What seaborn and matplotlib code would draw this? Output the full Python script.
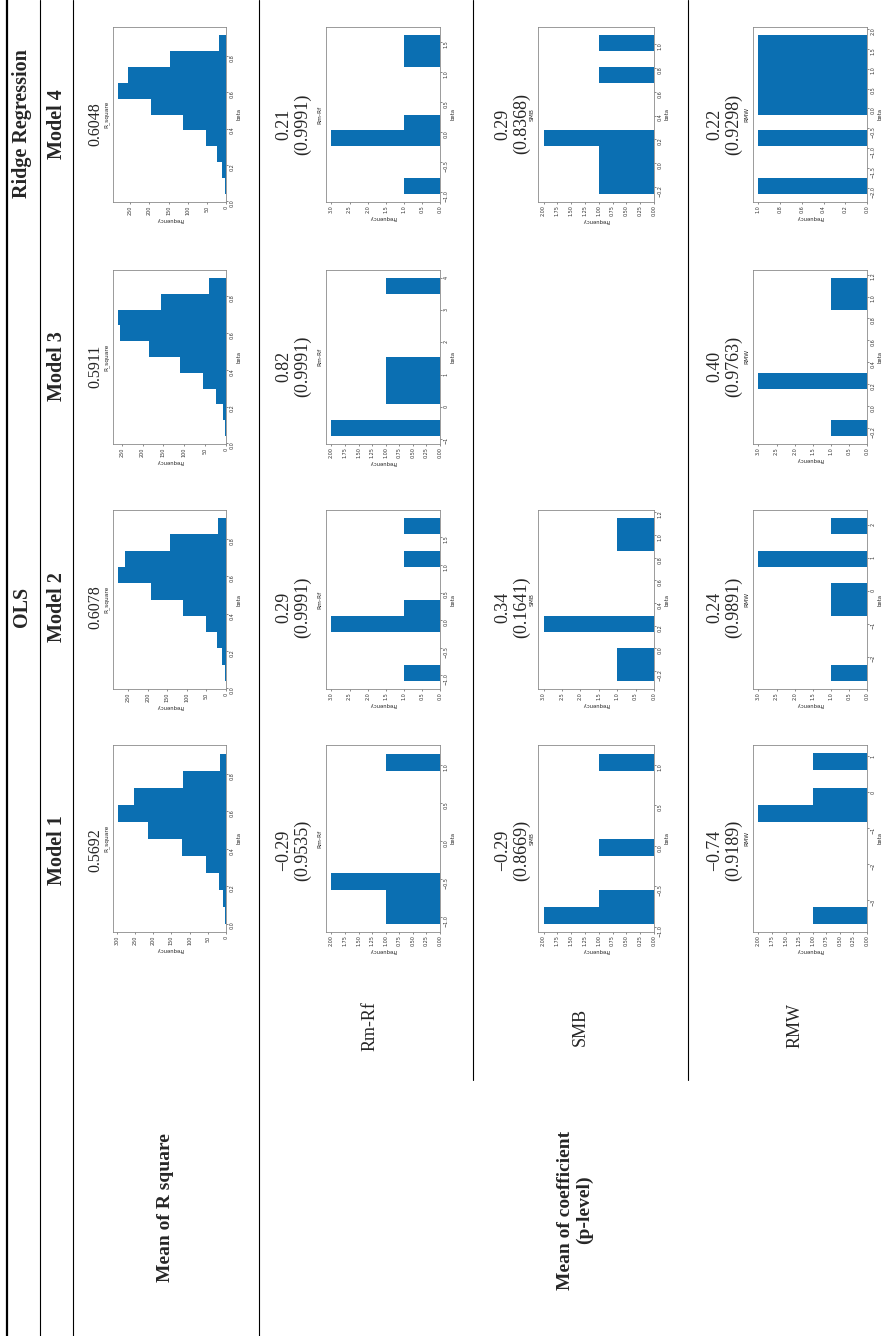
import numpy as np
import pandas as pd
import matplotlib
matplotlib.use('Agg')
import matplotlib.pyplot as plt
from matplotlib.lines import Line2D
from matplotlib.ticker import MaxNLocator
import seaborn as sns

models = ['Model 1', 'Model 2', 'Model 3', 'Model 4']
factors = ['Rm-Rf', 'SMB', 'RMW']

rsq_mean = ['0.5692', '0.6078', '0.5911', '0.6048']
rmrf_mean = ['\u22120.29', '0.29', '0.82', '0.21']
rmrf_p = ['(0.9535)', '(0.9991)', '(0.9991)', '(0.9991)']
smb_mean = ['\u22120.29', '0.34', None, '0.29']
smb_p = ['(0.8669)', '(0.1641)', None, '(0.8368)']
rmw_mean = ['\u22120.74', '0.24', '0.40', '0.22']
rmw_p = ['(0.9189)', '(0.9891)', '(0.9763)', '(0.9298)']

# histogram ranges (min, max of beta) and the counts of the 10 bins
rsq_lo = [0.0, 0.04, 0.04, 0.04]
rsq_hi = [0.91, 0.913, 0.90, 0.915]
rsq_counts = [[3, 8, 20, 56, 120, 215, 296, 254, 117, 17],
              [3, 10, 22, 50, 111, 192, 275, 257, 144, 20],
              [3, 8, 25, 56, 111, 184, 254, 258, 157, 40],
              [3, 11, 24, 53, 112, 197, 281, 257, 145, 18]]

rmrf_lo = [-1.09, -1.10, -0.91, -1.03]
rmrf_hi = [1.15, 1.85, 4.0, 1.62]
rmrf_counts = [[1, 1, 2, 0, 0, 0, 0, 0, 0, 1],
               [1, 0, 0, 3, 1, 0, 0, 1, 0, 1],
               [2, 0, 1, 1, 1, 0, 0, 0, 0, 1],
               [1, 0, 0, 3, 1, 0, 0, 0, 1, 1]]

smb_lo = [-0.96, -0.286, None, -0.26]
smb_hi = [1.14, 1.15, None, 1.08]
smb_counts = [[2, 1, 0, 0, 1, 0, 0, 0, 0, 1],
              [1, 1, 0, 3, 0, 0, 0, 0, 1, 1],
              None,
              [1, 1, 1, 2, 0, 0, 0, 1, 0, 1]]

rmw_lo = [-3.64, -2.72, -0.276, -2.16]
rmw_hi = [1.08, 2.2, 1.17, 1.85]
rmw_counts = [[1, 0, 0, 0, 0, 0, 2, 1, 0, 1],
              [1, 0, 0, 0, 1, 1, 0, 3, 0, 1],
              [1, 0, 0, 3, 0, 0, 0, 0, 1, 1],
              [1, 0, 0, 1, 0, 1, 1, 1, 1, 1]]

W, H = 896, 1336
bar_blue = '#0b6fb2'
spine_col = '#8a8a8a'
serif = 'Liberation Serif'

sns.set_style('white')
plt.rcParams['font.family'] = ['DejaVu Sans']

fig = plt.figure(figsize=(W / 100, H / 100), dpi=100)


def put(x, y, s, size=13, weight='normal'):
    fig.text(x / W, 1 - y / H, s, rotation=90, ha='center', va='center',
             rotation_mode='anchor', fontsize=size, fontweight=weight,
             family=serif)


def vline(x, y0, y1, lw=0.8):
    fig.add_artist(Line2D([x / W, x / W], [1 - y0 / H, 1 - y1 / H],
                          transform=fig.transFigure, color='black', lw=lw))


def hist_panel(box, lo, hi, counts, title):
    x0, x1, y0, y1 = box
    ax = fig.add_axes([x0 / W, 1 - y1 / H, (x1 - x0) / W, (y1 - y0) / H])
    nb = len(counts)
    step = (hi - lo) / nb
    df = pd.DataFrame({'beta': [lo + step * (k + 0.5) for k in range(nb)],
                       'n': counts})
    sns.histplot(data=df, y='beta', weights='n', bins=nb, binrange=(lo, hi),
                 ax=ax, color=bar_blue, alpha=1, linewidth=0)
    for p in list(ax.patches):
        if p.get_width() == 0:
            p.remove()
    ax.invert_xaxis()
    ax.yaxis.tick_right()
    ax.yaxis.set_label_position('right')
    ax.xaxis.set_major_locator(MaxNLocator(nbins=9, steps=[1, 2, 2.5, 5, 10]))
    ax.yaxis.set_major_locator(MaxNLocator(nbins=9, steps=[1, 2, 2.5, 5, 10]))
    ax.tick_params(axis='both', labelsize=3.5, length=1.5, width=0.4,
                   colors='#333333', pad=1)
    ax.tick_params(axis='x', bottom=True, labelrotation=90)
    ax.tick_params(axis='y', right=True, left=False, labelrotation=90)
    ax.set_ylabel('beta', fontsize=3.8, labelpad=1.5, rotation=90)
    ax.set_xlabel('Frequency', fontsize=3.8, labelpad=1.5, rotation=180)
    for sp in ax.spines.values():
        sp.set_color(spine_col)
        sp.set_linewidth(0.6)
    ax.annotate(title, xy=(0, 0.5), xycoords='axes fraction', xytext=(-2.5, 0),
                textcoords='offset points', rotation=90, ha='right',
                va='center', fontsize=4.2)
    return ax


# ---- table rules ----
vline(7, 0, H, lw=1.6)
vline(40, 0, H)
vline(73, 0, H)
vline(259, 0, H)
vline(473, 0, 1080)
vline(688, 0, 1080)

# ---- header ----
col_y = [850, 607, 366, 124]
put(22, 607, 'OLS', size=14.5, weight='bold')
put(22, 124, 'Ridge Regression', size=14.5, weight='bold')
for m, yy in zip(models, col_y):
    put(57, yy, m, size=14.5, weight='bold')

put(165, 1208, 'Mean of R square', size=14, weight='bold')
put(565, 1210, 'Mean of coefficient', size=14, weight='bold')
put(584, 1210, '(p-level)', size=14, weight='bold')
put(370, 1026, factors[0])
put(580, 1027, factors[1])
put(795, 1026, factors[2])

# ---- cells ----
rows_y = [(745, 932), (510, 689), (270, 444), (27, 202)]

for i in range(4):
    y0, y1 = rows_y[i]
    yc = col_y[i]
    put(95, yc, rsq_mean[i], size=11.5)
    hist_panel((113, 226, y0, y1), rsq_lo[i], rsq_hi[i], rsq_counts[i], 'R_square')

    put(284, yc, rmrf_mean[i])
    put(303, yc, rmrf_p[i])
    hist_panel((326, 440, y0, y1), rmrf_lo[i], rmrf_hi[i], rmrf_counts[i], 'Rm-Rf')

    if smb_counts[i] is not None:
        put(503, yc, smb_mean[i])
        put(522, yc, smb_p[i])
        hist_panel((538, 654, y0, y1), smb_lo[i], smb_hi[i], smb_counts[i], 'SMB')

    put(715, yc, rmw_mean[i])
    put(734, yc, rmw_p[i])
    hist_panel((753, 867, y0, y1), rmw_lo[i], rmw_hi[i], rmw_counts[i], 'RMW')

fig.savefig('out.png', dpi=100, facecolor='white')
